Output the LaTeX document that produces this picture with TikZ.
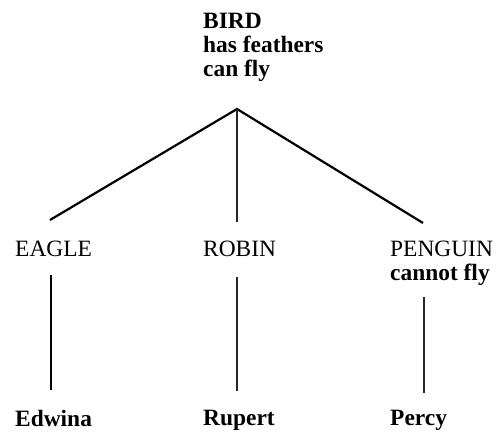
\documentclass[tikz,border=0pt]{standalone}
\usepackage{fontspec}
\setmainfont{Liberation Serif}
\begin{document}
\begin{tikzpicture}[x=1bp,y=-1bp,
  lbl/.style={inner sep=0pt,anchor=north west,align=left,font=\fontsize{23.5}{24}\selectfont},
  bl/.style={lbl,font=\fontsize{23.5}{24}\selectfont\bfseries},
  link/.style={line width=2.2bp,black},
  vlink/.style={line width=1.8bp,black!85}]
\useasboundingbox (0,0) rectangle (503,433);
% labels
\node[bl] (bird) at (203,13) {BIRD\\has feathers\\can fly};
\node[lbl] (eagle) at (15,241) {EAGLE};
\node[lbl] (robin) at (203,241) {ROBIN};
\node[lbl] (penguin) at (390,241) {PENGUIN\\\textbf{cannot fly}};
\node[bl] (edwina) at (15,410) {Edwina};
\node[bl] (rupert) at (203,410) {Rupert};
\node[bl] (percy) at (390,410) {Percy};
% connector ends
\coordinate (apex) at (237,109);
\coordinate (eagleTop) at (50,220);
\coordinate (robinTop) at (237,222);
\coordinate (penguinTop) at (423,223);
\coordinate (eagleLow) at (51,275);
\coordinate (robinLow) at (237,277);
\coordinate (penguinLow) at (424,297);
\coordinate (edwinaTop) at (51,390);
\coordinate (rupertTop) at (237,391);
\coordinate (percyTop) at (424,393);
% connectors
\draw[link] (eagleTop) -- (apex) -- (penguinTop);
\draw[vlink] (apex) -- (robinTop);
\draw[vlink,black] (eagleLow) -- (edwinaTop);
\draw[vlink] (robinLow) -- (rupertTop);
\draw[vlink] (penguinLow) -- (percyTop);
\end{tikzpicture}
\end{document}
